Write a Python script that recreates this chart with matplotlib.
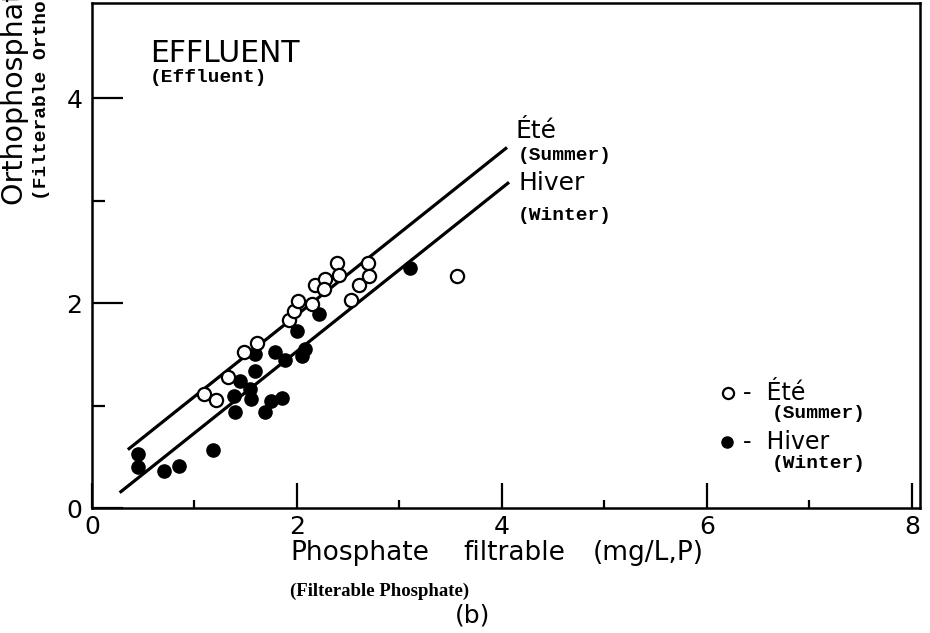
import matplotlib
matplotlib.use("Agg")
import matplotlib.pyplot as plt
from matplotlib.lines import Line2D


# summer (Ete) samples - open circles
ete_x = [1.09, 1.21, 1.33, 1.48, 1.61, 1.92, 1.97, 2.01, 2.15, 2.18,
         2.27, 2.26, 2.39, 2.41, 2.53, 2.61, 2.69, 2.70, 3.56]
ete_y = [1.11, 1.05, 1.28, 1.52, 1.61, 1.84, 1.92, 2.02, 1.99, 2.18,
         2.24, 2.14, 2.39, 2.27, 2.03, 2.18, 2.39, 2.26, 2.26]

# winter (Hiver) samples - filled circles
hiver_x = [0.45, 0.45, 0.70, 0.85, 1.18, 1.39, 1.40, 1.44, 1.54, 1.55, 1.59,
           1.59, 1.69, 1.75, 1.85, 1.79, 1.88, 2.05, 2.08, 2.00, 2.22, 3.10]
hiver_y = [0.53, 0.40, 0.36, 0.41, 0.57, 1.09, 0.94, 1.24, 1.16, 1.06, 1.34,
           1.50, 0.94, 1.04, 1.07, 1.52, 1.44, 1.48, 1.55, 1.73, 1.89, 2.34]

# fitted lines, end points
ete_line_x = [0.35, 4.05]
ete_line_y = [0.57, 3.52]
hiver_line_x = [0.27, 4.07]
hiver_line_y = [0.15, 3.18]

xticks = [0, 2, 4, 6, 8]
yticks = [0, 2, 4]

W, H = 930, 633
SANS = "DejaVu Sans"
MONO = "Liberation Mono"
SERIF = "Liberation Serif"


def fx(px):
    return px / W


def fy(py):
    return 1 - py / H


fig = plt.figure(figsize=(W / 100, H / 100), dpi=100)
ax = fig.add_axes([fx(92), fy(508), (920 - 92) / W, (508 - 3) / H])

ax.plot(ete_line_x, ete_line_y, color="black", lw=2.3, solid_capstyle="butt")
ax.plot(hiver_line_x, hiver_line_y, color="black", lw=2.3, solid_capstyle="butt")

ax.plot(hiver_x, hiver_y, "o", ms=9.5, mfc="black", mec="black", zorder=3)
ax.plot(ete_x, ete_y, "o", ms=9.5, mfc="white", mec="black", mew=1.6, zorder=4)

ax.set_xlim(0, 8.08)
ax.set_ylim(0, 4.93)
ax.set_xticks(xticks)
ax.set_yticks(yticks)
ax.set_xticks([1, 3, 5, 7], minor=True)
ax.set_yticks([1, 3], minor=True)
ax.set_xticklabels([str(t) for t in xticks], fontsize=18, family=SANS)
ax.set_yticklabels([str(t) for t in yticks], fontsize=18, family=SANS)
ax.tick_params(axis="x", which="major", direction="in", length=18, width=1.6, pad=5)
ax.tick_params(axis="y", which="major", direction="in", length=22, width=1.6, pad=7)
ax.tick_params(axis="x", which="minor", direction="in", length=6, width=1.6)
ax.tick_params(axis="y", which="minor", direction="in", length=9, width=1.6)
for s in ax.spines.values():
    s.set_linewidth(1.8)

# panel title
fig.text(fx(150), fy(53), "EFFLUENT", fontsize=21.5, family=SANS, ha="left", va="center")
fig.text(fx(150), fy(78), "(Effluent)", fontsize=14, family=MONO, weight="bold",
         ha="left", va="center")

# labels at the end of the fitted lines
fig.text(fx(515), fy(131), "Été", fontsize=18, family=SANS, ha="left", va="center")
fig.text(fx(518), fy(155), "(Summer)", fontsize=14, family=MONO, weight="bold",
         ha="left", va="center")
fig.text(fx(518), fy(183), "Hiver", fontsize=18, family=SANS, ha="left", va="center")
fig.text(fx(518), fy(216), "(Winter)", fontsize=14, family=MONO, weight="bold",
         ha="left", va="center")

# hand drawn legend
fig.add_artist(Line2D([fx(728)], [fy(393)], marker="o", ms=8, mfc="white",
                      mec="black", mew=1.6, transform=fig.transFigure))
fig.add_artist(Line2D([fx(727)], [fy(442)], marker="o", ms=8, mfc="black",
                      mec="black", transform=fig.transFigure))
fig.text(fx(743), fy(393), "-  Été", fontsize=17, family=SANS, ha="left", va="center")
fig.text(fx(772), fy(413), "(Summer)", fontsize=14, family=MONO, weight="bold",
         ha="left", va="center")
fig.text(fx(743), fy(442), "-  Hiver", fontsize=17, family=SANS, ha="left", va="center")
fig.text(fx(772), fy(464), "(Winter)", fontsize=14, family=MONO, weight="bold",
         ha="left", va="center")

# x axis title
fig.text(fx(290), fy(553), "Phosphate", fontsize=19, family=SANS, ha="left", va="center")
fig.text(fx(463), fy(553), "filtrable", fontsize=19, family=SANS, ha="left", va="center")
fig.text(fx(593), fy(553), "(mg/L,P)", fontsize=19, family=SANS, ha="left", va="center")
fig.text(fx(290), fy(591), "(Filterable Phosphate)", fontsize=13.5, family=SERIF,
         weight="bold", ha="left", va="center")
fig.text(fx(473), fy(616), "(b)", fontsize=18, family=SANS, ha="center", va="center")

# y axis title, runs off the top of the picture
fig.text(fx(15), fy(205), "Orthophosphate filtrable  (mg/L,P)", fontsize=20.5,
         family=SANS, rotation=90, rotation_mode="anchor", ha="left", va="center")
fig.text(fx(41), fy(200), "(Filterable Orthophosphate)", fontsize=14, family=MONO,
         weight="bold", rotation=90, rotation_mode="anchor", ha="left", va="center")

fig.savefig("out.png", dpi=100)
